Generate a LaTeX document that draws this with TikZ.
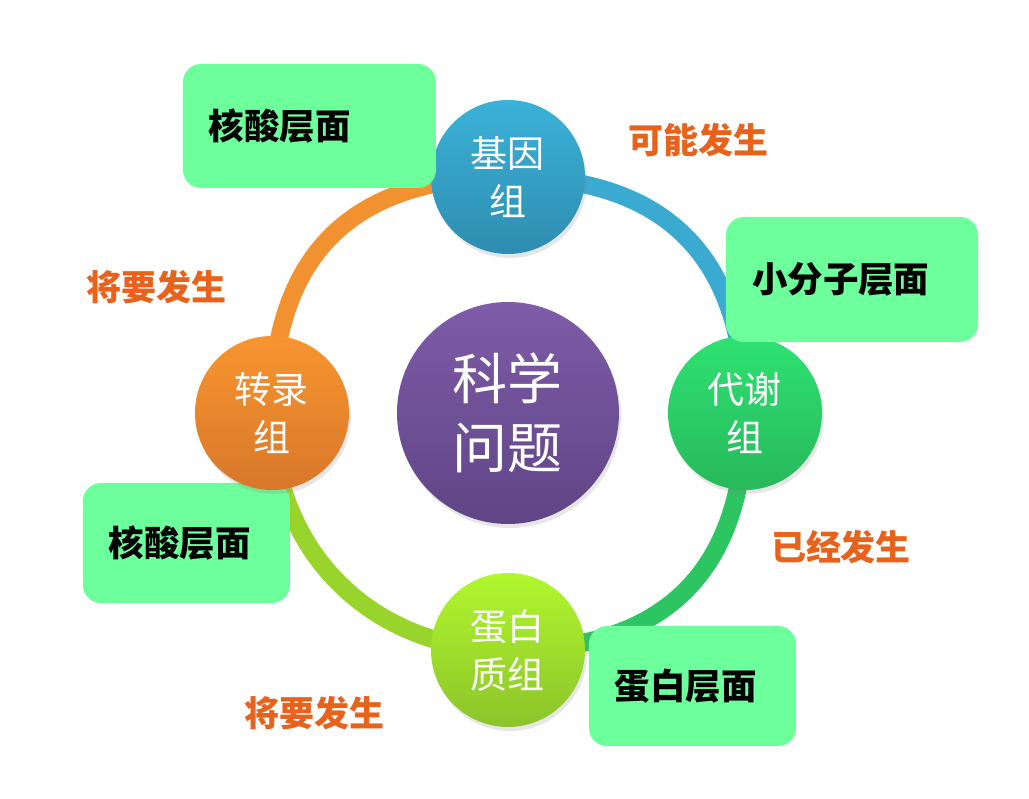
\documentclass[tikz,border=0pt]{standalone}
\usepackage{fontspec}
\usepackage{tikz}
\usepackage{xcolor}
\usetikzlibrary{
    shadows,
    backgrounds,
    positioning
}
\newfontfamily\cjk{Noto Sans CJK SC}
\definecolor{genetop}{HTML}{3BB2D8}
\definecolor{genebot}{HTML}{2E8DB0}
\definecolor{genearc}{HTML}{3AAAD0}
\definecolor{metatop}{HTML}{2EE272}
\definecolor{metabot}{HTML}{28B85B}
\definecolor{metaarc}{HTML}{2DC462}
\definecolor{prottop}{HTML}{B0F72E}
\definecolor{protbot}{HTML}{8CC42A}
\definecolor{protarc}{HTML}{98D42B}
\definecolor{transtop}{HTML}{F89530}
\definecolor{transbot}{HTML}{D8772A}
\definecolor{transarc}{HTML}{F2912F}
\definecolor{centtop}{HTML}{7E5CA8}
\definecolor{centbot}{HTML}{5F4585}
\definecolor{boxgreen}{HTML}{6CFF9B}
\definecolor{hintorange}{HTML}{E8621C}

\begin{document}
\begin{tikzpicture}[x=1pt, y=1pt,
        omic/.style={circle, inner sep=0pt, minimum size=154pt, text=white, align=center,
            font=\cjk\fontsize{37}{48}\selectfont,
            drop shadow={opacity=0.2, shadow xshift=2pt, shadow yshift=-4pt}},
        level/.style={rounded corners=18pt, fill=boxgreen, inner xsep=26pt, inner ysep=0pt,
            align=left, font=\cjk\bfseries\fontsize{35.5}{40}\selectfont},
        hint/.style={text=hintorange, font=\cjk\bfseries\fontsize{35}{40}\selectfont},
        ring/.style={line width=18pt}]
    \useasboundingbox (-508, -386) rectangle (521, 413);
    \node[level, text width=155pt, minimum height=120pt] (nl) at (-321.5, -130) {核酸层面};
    \node[level, text width=155pt, minimum height=120pt] (pl) at (184.5, -273) {蛋白层面};
    \node[omic, top color=genetop, bottom color=genebot] (g) at (0, 236) {基因\\组};
    \node[omic, top color=metatop, bottom color=metabot] (m) at (237, 0) {代谢\\组};
    \node[omic, top color=prottop, bottom color=protbot] (p) at (0, -237) {蛋白\\质组};
    \node[omic, top color=transtop, bottom color=transbot] (t) at (-236, 0) {转录\\组};
    \node[omic, minimum size=222pt, top color=centtop, bottom color=centbot,
        font=\cjk\fontsize{55}{69}\selectfont] (q) at (0, 0) {科学\\问题};
    \node[level, text width=201pt, minimum height=124pt] (nu) at (-198.5, 287) {核酸层面};
    \node[level, text width=200pt, minimum height=125pt] (sm) at (344, 133.5) {小分子层面};
    \node[hint] (h1) at (190.5, 273) {可能发生};
    \node[hint] (h2) at (-351, 126) {将要发生};
    \node[hint] (h3) at (333, -134) {已经发生};
    \node[hint] (h4) at (-193, -300) {将要发生};
    \begin{scope}[on background layer]
        \draw[ring, genearc] (g.center) to[bend left=45, looseness=1.2] (m.center);
        \draw[ring, metaarc] (m.center) to[bend left=45, looseness=1.2] (p.center);
        \draw[ring, protarc] (p.center) to[bend left=45, looseness=1.05] (t.center);
        \draw[ring, transarc] (t.center) to[bend left=45, looseness=1.2] (g.center);
    \end{scope}
\end{tikzpicture}
\end{document}
